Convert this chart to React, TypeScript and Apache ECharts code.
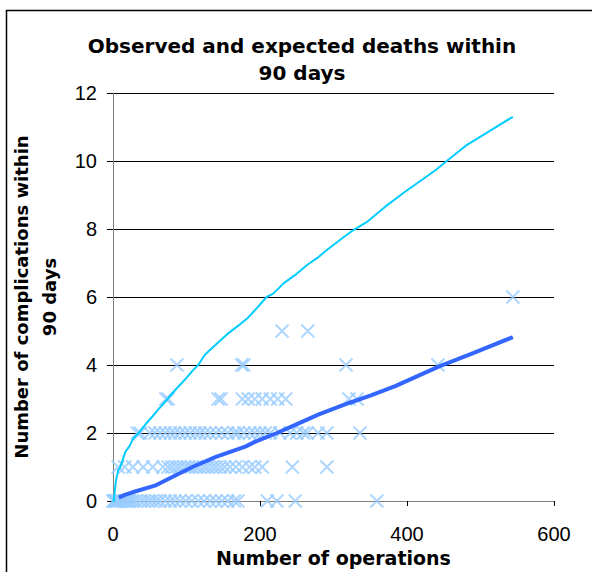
import React, { useEffect, useRef } from "react";
import * as echarts from "echarts";

const titleLines = ["Observed and expected deaths within", "90 days"];
const xAxisName = "Number of operations";
const yAxisName = "Number of complications within\n90 days";

// Observed deaths per unit: [operations, deaths]
const obs0 = [0, 1, 3, 4, 5, 7, 10, 12, 15, 18, 20, 23, 27, 31, 37, 42, 48, 53, 59, 64, 71, 78, 84, 91, 99, 107, 116, 124, 132, 140, 148, 156, 165, 170, 210, 223, 248, 359];
const obs1 = [7, 16, 27, 41, 54, 68, 75, 80, 86, 91, 97, 102, 107, 113, 118, 124, 129, 135, 140, 146, 152, 159, 167, 176, 186, 193, 203, 244, 291];
const obs2 = [33, 37, 50, 57, 64, 71, 78, 84, 91, 98, 105, 112, 118, 125, 132, 140, 148, 156, 165, 170, 178, 186, 193, 200, 207, 214, 227, 241, 250, 259, 264, 279, 291, 336];
const obs3 = [72, 75, 143, 147, 176, 184, 193, 203, 214, 224, 235, 321, 332];
const obs4 = [87, 175, 178, 317, 442];
const obs5 = [230, 265];
const obs6 = [544];

// Upper limit curve (cyan)
const upperX = [0, 2, 4, 7, 10, 13, 17, 22, 28, 35, 44, 53, 62, 73, 84, 97, 109, 116, 125, 140, 155, 170, 184, 196, 209, 218, 232, 248, 264, 278, 291, 310, 327, 345, 370, 395, 420, 440, 454, 480, 510, 544];
const upperY = [-0.15, 0.2, 0.6, 0.9, 1.0, 1.2, 1.45, 1.6, 1.85, 2.0, 2.25, 2.47, 2.7, 2.97, 3.25, 3.55, 3.85, 4.0, 4.3, 4.6, 4.9, 5.15, 5.4, 5.68, 6.0, 6.1, 6.4, 6.65, 6.94, 7.15, 7.38, 7.7, 7.97, 8.2, 8.65, 9.06, 9.44, 9.75, 10.0, 10.45, 10.85, 11.3];

// Expected deaths (blue)
const expX = [8, 16, 30, 57, 80, 108, 140, 180, 193, 223, 248, 280, 322, 350, 384, 443, 490, 544];
const expY = [0.1, 0.18, 0.28, 0.45, 0.7, 1.0, 1.3, 1.6, 1.74, 2.0, 2.24, 2.55, 2.89, 3.1, 3.38, 3.95, 4.35, 4.82];

const xTicks = { min: 0, max: 600, interval: 200 };
const yTicks = { min: 0, max: 12, interval: 2 };

export default function App() {
  const ref = useRef<HTMLDivElement>(null);
  useEffect(() => {
    if (!ref.current) return;
    const chart = echarts.init(ref.current, null, { renderer: "svg" });
    const obsGroups = [obs0, obs1, obs2, obs3, obs4, obs5, obs6];
    const scatterData: number[][] = [];
    obsGroups.forEach((arr, k) => arr.forEach((x) => scatterData.push([x, k])));
    const font = "Liberation Sans, Arial, sans-serif";
    const boldFont = "DejaVu Sans, Verdana, sans-serif";
    chart.setOption({
      animation: false,
      backgroundColor: "#fff",
      textStyle: { fontFamily: font },
      grid: { left: 113, right: 38, top: 93, bottom: 71, containLabel: false, outerBoundsMode: "none" },
      graphic: [
        {
          type: "rect",
          shape: { x: 6.5, y: 10.5, width: 700, height: 700 },
          style: { fill: "none", stroke: "#000", lineWidth: 1.5 },
          silent: true,
          z: -1,
        },
        {
          type: "text",
          x: 302,
          y: 46,
          style: { text: titleLines[0], font: `bold 20px ${boldFont}`, fill: "#000", textAlign: "center", textVerticalAlign: "middle" },
        },
        {
          type: "text",
          x: 302,
          y: 73,
          style: { text: titleLines[1], font: `bold 20px ${boldFont}`, fill: "#000", textAlign: "center", textVerticalAlign: "middle" },
        },
      ],
      xAxis: {
        type: "value",
        ...xTicks,
        name: xAxisName,
        nameLocation: "middle",
        nameGap: 37,
        nameTextStyle: { fontSize: 19, fontWeight: "bold", color: "#000", fontFamily: boldFont },
        axisLine: { lineStyle: { color: "#808080", width: 1 } },
        axisTick: { show: true, length: 5, lineStyle: { color: "#000" } },
        axisLabel: { fontSize: 20, color: "#000", margin: 23, fontFamily: font },
        splitLine: { show: false },
      },
      yAxis: {
        type: "value",
        ...yTicks,
        name: yAxisName,
        nameLocation: "middle",
        nameGap: 39,
        nameRotate: 90,
        nameTextStyle: { fontSize: 18, fontWeight: "bold", color: "#000", lineHeight: 28, fontFamily: boldFont },
        axisLine: { show: true, lineStyle: { color: "#808080", width: 1 } },
        axisTick: { show: true, length: 6, lineStyle: { color: "#000" } },
        axisLabel: { fontSize: 20, color: "#000", margin: 16, fontFamily: font },
        splitLine: { show: true, lineStyle: { color: "#000", width: 1 } },
      },
      series: [
        {
          type: "scatter",
          data: scatterData,
          symbol: "path://M0,0L10,10M10,0L0,10",
          symbolSize: 13,
          itemStyle: { color: "rgba(0,0,0,0)", borderColor: "#99CCFF", borderWidth: 2 },
          z: 2,
        },
        {
          type: "line",
          data: expX.map((x, i) => [x, expY[i]]),
          showSymbol: false,
          symbol: "none",
          lineStyle: { color: "#3366FF", width: 4 },
          z: 3,
        },
        {
          type: "line",
          data: upperX.map((x, i) => [x, upperY[i]]),
          showSymbol: false,
          symbol: "none",
          lineStyle: { color: "#00CCFF", width: 2 },
          z: 4,
        },
      ],
    });
    return () => chart.dispose();
  }, []);
  return <div ref={ref} style={{ position: "fixed", left: 0, top: 0, width: 592, height: 572 }} />;
}
